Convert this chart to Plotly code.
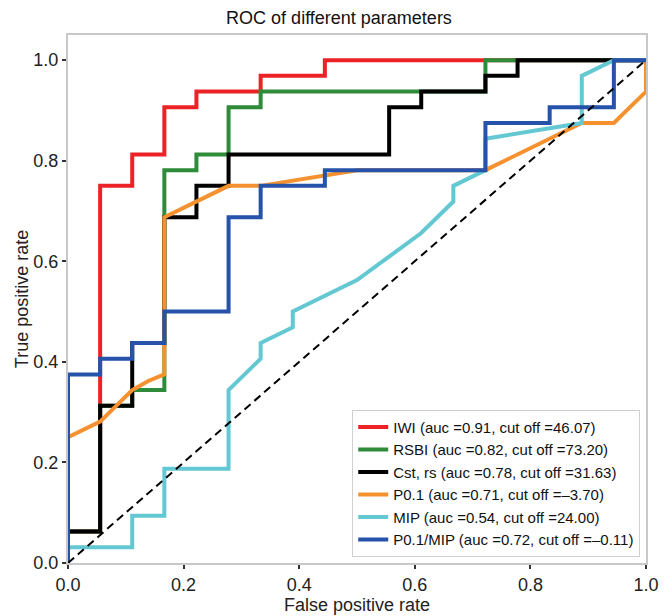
import plotly.graph_objects as go

# ---- data ----
names = [
    "IWI (auc =0.91, cut off =46.07)",
    "RSBI (auc =0.82, cut off =73.20)",
    "Cst, rs (auc =0.78, cut off =31.63)",
    "P0.1 (auc =0.71, cut off =\u20133.70)",
    "MIP (auc =0.54, cut off =24.00)",
    "P0.1/MIP (auc =0.72, cut off =\u20130.11)",
]

iwi_fpr = [0, 0, 0.0556, 0.0556, 0.1111, 0.1111, 0.1667, 0.1667, 0.2222, 0.2222, 0.3333, 0.3333, 0.4444, 0.4444, 1.0]
iwi_tpr = [0, 0.0625, 0.0625, 0.75, 0.75, 0.8125, 0.8125, 0.9062, 0.9062, 0.9375, 0.9375, 0.9688, 0.9688, 1.0, 1.0]

rsbi_fpr = [0, 0, 0.0556, 0.0556, 0.1111, 0.1111, 0.1667, 0.1667, 0.2222, 0.2222, 0.2778, 0.2778, 0.3333, 0.3333, 0.7222, 0.7222, 1.0]
rsbi_tpr = [0, 0.0625, 0.0625, 0.3125, 0.3125, 0.3438, 0.3438, 0.7812, 0.7812, 0.8125, 0.8125, 0.9062, 0.9062, 0.9375, 0.9375, 1.0, 1.0]

cst_fpr = [0, 0, 0.0556, 0.0556, 0.1111, 0.1111, 0.1667, 0.1667, 0.2222, 0.2222, 0.2778, 0.2778, 0.5556, 0.5556, 0.6111, 0.6111, 0.7222, 0.7222, 0.7778, 0.7778, 1.0]
cst_tpr = [0, 0.0625, 0.0625, 0.3125, 0.3125, 0.4375, 0.4375, 0.6875, 0.6875, 0.75, 0.75, 0.8125, 0.8125, 0.9062, 0.9062, 0.9375, 0.9375, 0.9688, 0.9688, 1.0, 1.0]

p01_fpr = [0, 0, 0.0556, 0.1111, 0.1389, 0.1667, 0.1667, 0.2778, 0.3333, 0.5, 0.7222, 0.8889, 0.9444, 1.0, 1.0]
p01_tpr = [0, 0.25, 0.2812, 0.3438, 0.362, 0.375, 0.6875, 0.75, 0.75, 0.7812, 0.7812, 0.875, 0.875, 0.9375, 1.0]

mip_fpr = [0, 0, 0.1111, 0.1111, 0.1667, 0.1667, 0.2778, 0.2778, 0.3333, 0.3333, 0.3889, 0.3889, 0.5, 0.6111, 0.6667, 0.6667, 0.7222, 0.7222, 0.8889, 0.8889, 0.9444, 1.0]
mip_tpr = [0, 0.0312, 0.0312, 0.0938, 0.0938, 0.1875, 0.1875, 0.3438, 0.4062, 0.4375, 0.4688, 0.5, 0.5625, 0.6562, 0.7188, 0.75, 0.7812, 0.8438, 0.875, 0.9688, 1.0, 1.0]

ratio_fpr = [0, 0, 0.0556, 0.0556, 0.1111, 0.1111, 0.1667, 0.1667, 0.2778, 0.2778, 0.3333, 0.3333, 0.4444, 0.4444, 0.7222, 0.7222, 0.8333, 0.8333, 0.9444, 0.9444, 1.0]
ratio_tpr = [0, 0.375, 0.375, 0.4062, 0.4062, 0.4375, 0.4375, 0.5, 0.5, 0.6875, 0.6875, 0.75, 0.75, 0.7812, 0.7812, 0.875, 0.875, 0.9062, 0.9062, 1.0, 1.0]

chance = [0, 1]

tick_vals = [0.0, 0.2, 0.4, 0.6, 0.8, 1.0]
tick_text = ["0.0", "0.2", "0.4", "0.6", "0.8", "1.0"]

colors = ["#ec2226", "#2e8b3a", "#000000", "#f5912f", "#64c8d2", "#2652aa"]

series = [
    (iwi_fpr, iwi_tpr),
    (rsbi_fpr, rsbi_tpr),
    (cst_fpr, cst_tpr),
    (p01_fpr, p01_tpr),
    (mip_fpr, mip_tpr),
    (ratio_fpr, ratio_tpr),
]

FONT = "Liberation Sans, Arial, Helvetica, sans-serif"
# the page body has an 8px default margin; the figure is sized to fill the rest
W, H = 662, 608

fig = go.Figure()
for (xs, ys), name, col in zip(series, names, colors):
    fig.add_trace(go.Scatter(x=xs, y=ys, mode="lines", name=name,
                             line=dict(color=col, width=4)))

fig.add_trace(go.Scatter(x=chance, y=chance, mode="lines", showlegend=False,
                         line=dict(color="#000000", width=2, dash="8px,5px")))

axis_common = dict(
    showgrid=False, zeroline=False, automargin=False,
    showline=True, mirror=True, linecolor="#c8c8c8", linewidth=2,
    ticks="outside", ticklen=4, tickwidth=1.5, tickcolor="#333333",
    tickvals=tick_vals, ticktext=tick_text,
    tickfont=dict(family=FONT, size=18, color="#222222"),
)

fig.update_layout(
    width=W, height=H,
    margin=dict(l=60, r=24, t=27, b=53),
    paper_bgcolor="white", plot_bgcolor="white",
    title=dict(text="ROC of different parameters", x=0.5, xanchor="center",
               y=1 - 10 / H, yanchor="middle", yref="container",
               font=dict(family=FONT, size=18, color="#111111")),
    xaxis=dict(range=[0, 1], title=dict(text="False positive rate", standoff=4,
               font=dict(family=FONT, size=18, color="#222222")), **axis_common),
    yaxis=dict(range=[0, 1.05], title=dict(text="True positive rate", standoff=0,
               font=dict(family=FONT, size=18, color="#222222")), **axis_common),
    legend=dict(x=0.99, xanchor="right", y=0.012, yanchor="bottom",
                bgcolor="white", bordercolor="#d0d0d0", borderwidth=1,
                font=dict(family=FONT, size=15, color="#111111"),
                itemwidth=30, tracegroupgap=0),
)

fig.write_html("out.html")
